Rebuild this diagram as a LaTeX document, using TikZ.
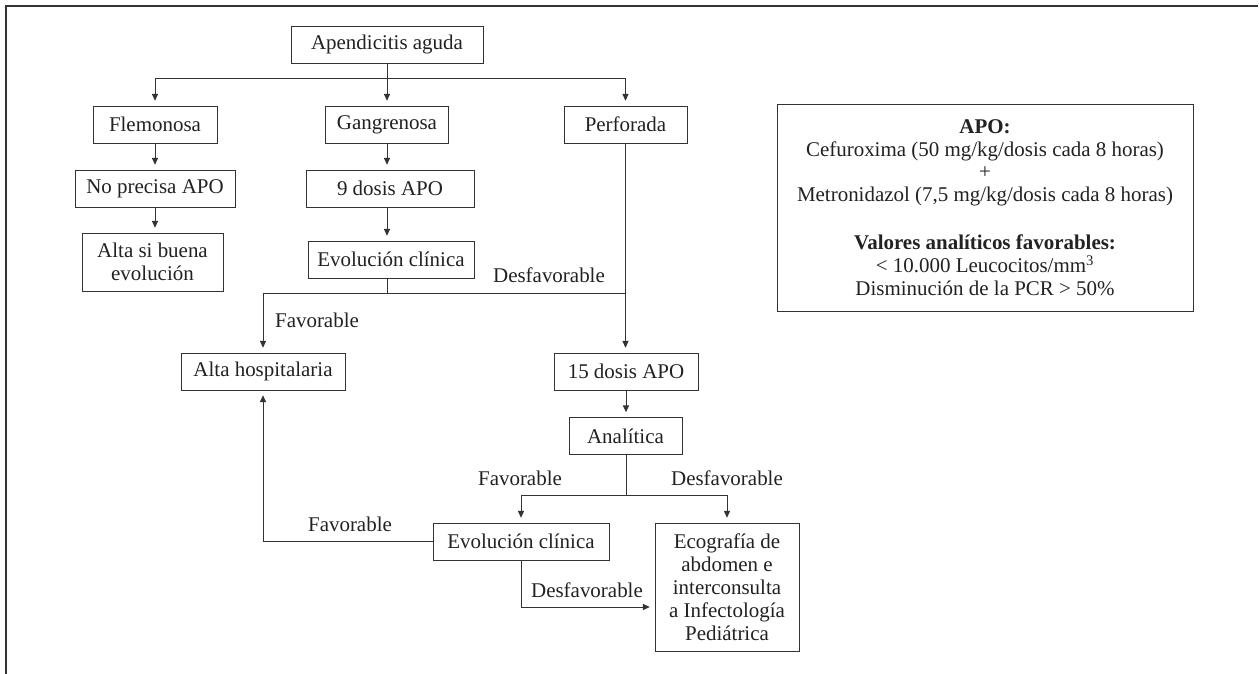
\documentclass[tikz,border=0pt]{standalone}
\usepackage{fontspec}
\setmainfont{Liberation Serif}
\usepackage{tikz}
\usetikzlibrary{arrows.meta,positioning,calc}
\definecolor{linegray}{RGB}{51,51,51}
\definecolor{txtgray}{RGB}{34,34,34}
\tikzset{
  paso/.style={draw=linegray, line width=0.6pt, fill=white, text=txtgray,
               minimum height=0.925cm, inner sep=0pt, align=center,
               font=\fontsize{14.9}{16.3}\selectfont},
  flecha/.style={-{Triangle[length=1.7mm,width=1.5mm]}, linegray, line width=0.6pt,
                 shorten >=0.12cm},
  linea/.style={linegray, line width=0.6pt},
  rotulo/.style={text=txtgray, inner sep=0pt, font=\fontsize{14.9}{16.3}\selectfont},
  marco/.style={linegray, line width=1.2pt},
}

\begin{document}
\begin{tikzpicture}[x=0.025cm, y=-0.025cm]
    \useasboundingbox (0,0) rectangle (1259,674);
    \draw[marco] (1258,6) -- (6,6) -- (6,674);
    % main column
    \node[paso, minimum width=4.8cm] (apend) at (387,44.5) {Apendicitis aguda};
    \node[paso, minimum width=3.1cm] (flem) at (155,124.5) {Flemonosa};
    \node[paso, minimum width=3.075cm] (gang) at (387,124.5) {Gangrenosa};
    \node[paso, minimum width=3.075cm] (perf) at (625.5,124.5) {Perforada};
    \node[paso, minimum width=4.0cm] (noprec) at (155,188.5) {No precisa APO};
    \node[paso, minimum width=4.2cm] (nueve) at (390,188.5) {9 dosis APO};
    \node[paso, minimum width=3.525cm, minimum height=1.45cm] (altasi) at (152.5,262)
      {Alta si buena\\evolución};
    \node[paso, minimum width=4.15cm] (evolA) at (391,259.5) {Evolución clínica};
    \node[paso, minimum width=4.1cm] (alta) at (263,371.5) {Alta hospitalaria};
    \node[paso, minimum width=3.6cm] (quince) at (626,371.5) {15 dosis APO};
    \node[paso, minimum width=2.825cm] (anal) at (625.5,436) {Analítica};
    \node[paso, minimum width=4.4cm] (evolB) at (521,541.5) {Evolución clínica};
    \node[paso, minimum width=3.6cm, minimum height=3.2cm] (ecog) at (727,587)
      {Ecografía de\\abdomen e\\interconsulta\\a Infectología\\Pediátrica};
    % side box
    \node[paso, minimum width=10.4cm, minimum height=5.175cm] (apo) at (985,207.5)
      {\textbf{APO:}\\Cefuroxima (50 mg/kg/dosis cada 8 horas)\\+\\
       Metronidazol (7,5 mg/kg/dosis cada 8 horas)\\[0.62cm]
       \textbf{Valores analíticos favorables:}\\
       < 10.000 Leucocitos/mm\textsuperscript{3}\\
       Disminución de la PCR > 50\%};
    % branches
    \coordinate (j1) at (387,78);
    \draw[linea] (apend.south) -- (j1);
    \draw[flecha] (j1) -| (flem.north);
    \draw[flecha] (j1) -| (perf.north);
    \draw[flecha] (j1) -- (gang.north);
    \draw[flecha] (flem) -- (noprec);
    \draw[flecha] (noprec.south) -- (noprec.south |- altasi.north);
    \draw[flecha] (gang) -- (gang |- nueve.north);
    \draw[flecha] (gang |- nueve.south) -- (gang |- evolA.north);
    \coordinate (j2) at (387,293);
    \draw[linea] (j2 |- evolA.south) -- (j2);
    \draw[flecha] (j2) -| (alta.north);
    \draw[linea] (j2) -- (j2 -| perf.south);
    \draw[flecha] (perf.south) -- (perf.south |- quince.north);
    \draw[flecha] (quince) -- (quince |- anal.north);
    \coordinate (j3) at (626,495);
    \draw[linea] (j3 |- anal.south) -- (j3);
    \draw[flecha] (j3) -| (evolB.north);
    \draw[flecha] (j3) -| (ecog.north);
    \draw[flecha] (evolB.west) -| (alta.south);
    \coordinate (j4) at (522,607);
    \draw[flecha] (evolB.south) |- (ecog.west |- j4);
    % labels
    \node[rotulo] (des1) at (549,275) {Desfavorable};
    \node[rotulo] (fav1) at (317,320) {Favorable};
    \node[rotulo] (fav2) at (520,478) {Favorable};
    \node[rotulo] (des2) at (727,478) {Desfavorable};
    \node[rotulo] (fav3) at (350,524) {Favorable};
    \node[rotulo] (des3) at (587,590) {Desfavorable};
\end{tikzpicture}
\end{document}
